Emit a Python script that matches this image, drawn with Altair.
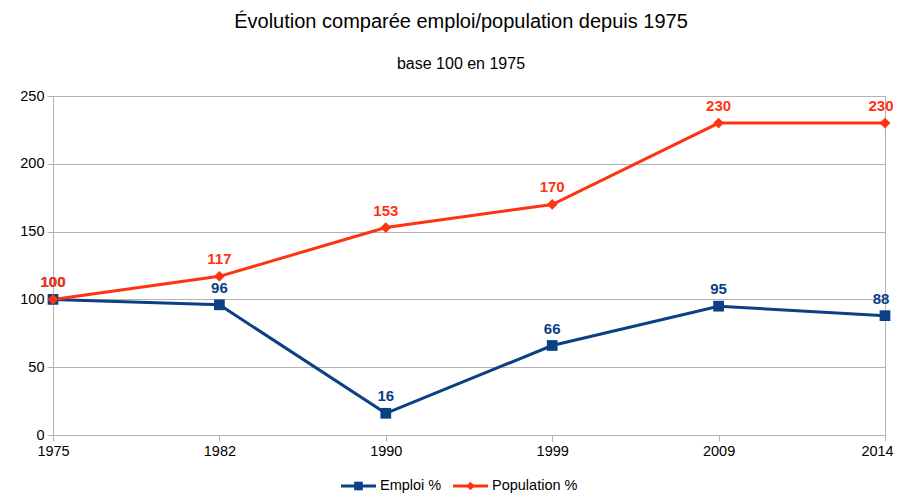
import altair as alt
import pandas as pd

years = ["1975", "1982", "1990", "1999", "2009", "2014"]
emploi = [100, 96, 16, 66, 95, 88]
population = [100, 117, 153, 170, 230, 230]
series = ["Emploi %", "Population %"]
colors = ["#0b4084", "#ff3311"]
shapes = ["square", "diamond"]
y_ticks = [0, 50, 100, 150, 200, 250]

rows = []
for name, vals in zip(series, [emploi, population]):
    for yr, v in zip(years, vals):
        rows.append({"year": yr, "value": v, "series": name})
df = pd.DataFrame(rows)

W, H = 832, 339
FONT = "Liberation Sans"
GRID = "#b3b3b3"
FS = 14.5
last_year = years[-1]

x_enc = alt.X(
    "year:O", sort=years, scale=alt.Scale(padding=0),
    axis=alt.Axis(title=None, labelAngle=0, grid=False, domainColor=GRID,
                  tickColor=GRID, tickSize=6, labelFontSize=FS, labelColor="#000000",
                  labelFont=FONT, labelPadding=3,
                  labelOffset=alt.ExprRef(f"datum.value == '{last_year}' ? -8 : 0")),
)
y_enc = alt.Y(
    "value:Q", scale=alt.Scale(domain=[0, 250], nice=False, zero=True),
    axis=alt.Axis(title=None, values=y_ticks, grid=True, gridColor=GRID, domainColor=GRID,
                  tickColor=GRID, tickSize=6, labelFontSize=FS, labelColor="#000000",
                  labelFont=FONT, labelPadding=3),
)
color_enc = alt.Color("series:N", scale=alt.Scale(domain=series, range=colors), legend=None)
shape_enc = alt.Shape("series:N", scale=alt.Scale(domain=series, range=shapes), legend=None)

base = alt.Chart(df).encode(x=x_enc, y=y_enc, color=color_enc)

lines = base.mark_line(strokeWidth=3).encode(detail="series:N")
points = base.mark_point(filled=True, size=115, opacity=1).encode(shape=shape_enc)
labels = base.mark_text(dy=-17, fontSize=15, fontWeight="bold", font=FONT).encode(
    text=alt.Text("value:Q", format=".0f")
).transform_filter(alt.datum.year != last_year)
labels_last = base.mark_text(dy=-17, dx=-4, fontSize=15, fontWeight="bold", font=FONT).encode(
    text=alt.Text("value:Q", format=".0f")
).transform_filter(alt.datum.year == last_year)

# legend (manual, below plot)
legend_layers = []
leg_y = 390
leg_x0 = [288, 400]
for name, col, shp, lx in zip(series, colors, shapes, leg_x0):
    d = pd.DataFrame({"series": [name]})
    legend_layers.append(
        alt.Chart(d).mark_rule(color=col, strokeWidth=3).encode(
            x=alt.value(lx), x2=alt.value(lx + 35), y=alt.value(leg_y)
        )
    )
    legend_layers.append(
        alt.Chart(d).mark_point(filled=True, color=col, shape=shp, size=75, opacity=1).encode(
            x=alt.value(lx + 17.5), y=alt.value(leg_y)
        )
    )
    legend_layers.append(
        alt.Chart(d).mark_text(align="left", baseline="middle", fontSize=FS, font=FONT,
                               color="#000000").encode(
            x=alt.value(lx + 39), y=alt.value(leg_y), text="series:N"
        )
    )

chart = alt.layer(lines, points, labels, labels_last, *legend_layers).properties(
    width=W, height=H,
    autosize=alt.AutoSizeParams(type="none"),
    padding={"left": 45, "top": 88, "right": 10, "bottom": 58},
    title=alt.TitleParams(
        text="Évolution comparée emploi/population depuis 1975",
        subtitle="base 100 en 1975",
        font=FONT, subtitleFont=FONT, fontSize=20, subtitleFontSize=16,
        fontWeight="normal", color="#000000", subtitleColor="#000000",
        anchor="middle", offset=16, subtitlePadding=24, dx=-8,
    ),
).configure_view(stroke=GRID)

chart.save("out.html", embed_options={"renderer": "svg", "actions": False})
